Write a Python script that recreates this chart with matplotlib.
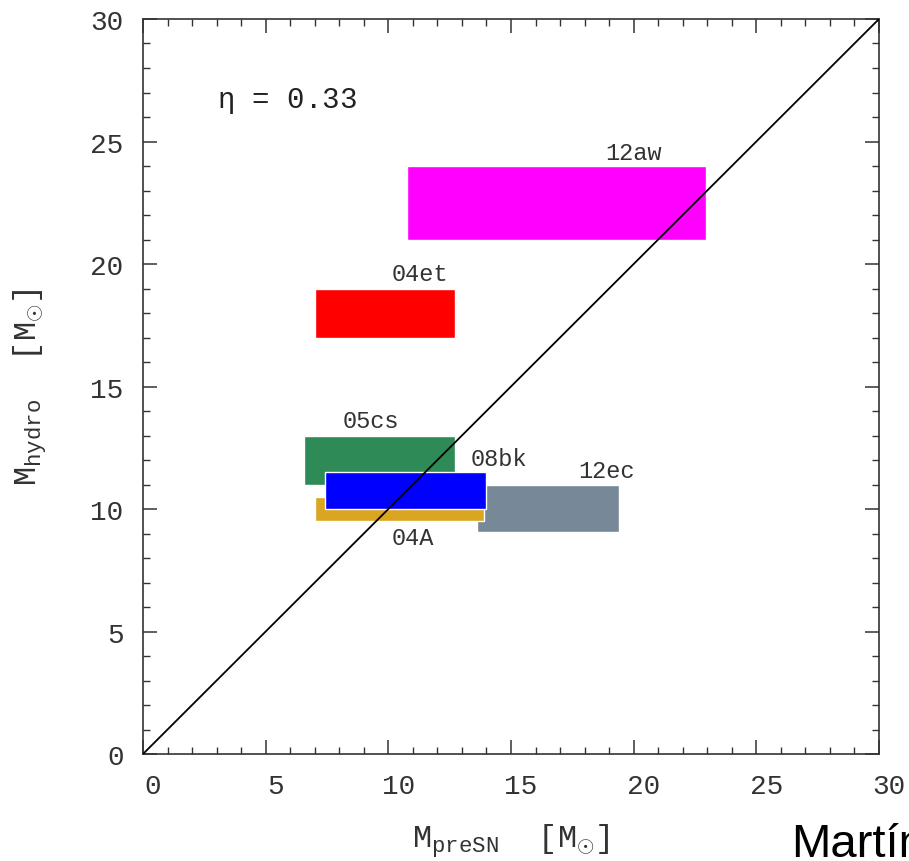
import matplotlib
matplotlib.use("Agg")
import matplotlib.pyplot as plt
from matplotlib.patches import Rectangle
from matplotlib.ticker import MultipleLocator
import matplotlib.transforms as mtransforms

plt.rcParams['font.family'] = ['Liberation Mono', 'DejaVu Sans']
plt.rcParams['mathtext.fontset'] = 'custom'
plt.rcParams['mathtext.rm'] = 'Liberation Mono'
plt.rcParams['mathtext.it'] = 'Liberation Mono'
plt.rcParams['mathtext.tt'] = 'Liberation Mono'

# supernovae: pre-SN mass range (x) and hydro mass range (y)
names = ['12ec', '05cs', '04A', '08bk', '04et', '12aw']
x_lo = [13.6, 6.55, 7.0, 7.4, 7.0, 10.75]
x_hi = [19.4, 12.7, 13.9, 14.0, 12.7, 22.95]
y_lo = [9.05, 11.0, 9.5, 10.0, 17.0, 21.0]
y_hi = [11.0, 13.0, 10.5, 11.5, 19.0, 24.0]
colors = ['#778899', '#2E8B57', '#DAA520', '#0000FF', '#FF0000', '#FF00FF']

# label anchor points
lab_x = [18.9, 9.3, 11.0, 14.5, 11.3, 20.0]
lab_y = [11.1, 13.15, 9.3, 11.6, 19.15, 24.1]
lab_va = ['bottom', 'bottom', 'top', 'bottom', 'bottom', 'bottom']

fig = plt.figure(figsize=(9.09, 8.62), dpi=100)
ax = fig.add_axes([0.1573, 0.1241, 0.8097, 0.8527])

for i in range(len(names)):
    ax.add_patch(Rectangle((x_lo[i], y_lo[i]), x_hi[i] - x_lo[i], y_hi[i] - y_lo[i],
                           facecolor=colors[i], edgecolor='white', lw=1.0, zorder=2 + i))
    ax.text(lab_x[i], lab_y[i], names[i], ha='center', va=lab_va[i],
            fontsize=17, color='#333333', zorder=10)

ax.plot([0, 30], [0, 30], color='black', lw=1.3, zorder=20)

ax.text(3.0, 26.7, r'$\eta$ = 0.33', fontsize=21, va='center', ha='left', color='#222222')

ax.set_xlim(0, 30)
ax.set_ylim(0, 30)
ax.xaxis.set_major_locator(MultipleLocator(5))
ax.yaxis.set_major_locator(MultipleLocator(5))
ax.xaxis.set_minor_locator(MultipleLocator(1))
ax.yaxis.set_minor_locator(MultipleLocator(1))
ax.tick_params(which='both', direction='in', top=True, right=True, color='#333333',
               labelsize=20, labelcolor='#333333')
ax.tick_params(which='major', length=10, width=1.1)
ax.tick_params(which='minor', length=5, width=1.0)
ax.tick_params(axis='x', pad=14)
ax.tick_params(axis='y', pad=14)
for s in ax.spines.values():
    s.set_color('#333333')
    s.set_linewidth(1.2)

offset = mtransforms.ScaledTranslation(10 / 100, 0, fig.dpi_scale_trans)
for lbl in ax.get_xticklabels():
    lbl.set_transform(lbl.get_transform() + offset)

ax.set_xlabel(r'M$_{\mathrm{preSN}}$  [M$_{\odot}$]', fontsize=23, color='#333333', labelpad=16)
ax.set_ylabel(r'M$_{\mathrm{hydro}}$  [M$_{\odot}$]', fontsize=23, color='#333333', labelpad=30)

fig.text(0.870, 0.006, 'Martín', fontsize=34, family='Liberation Sans', color='black')

fig.savefig('out.png', dpi=100)
